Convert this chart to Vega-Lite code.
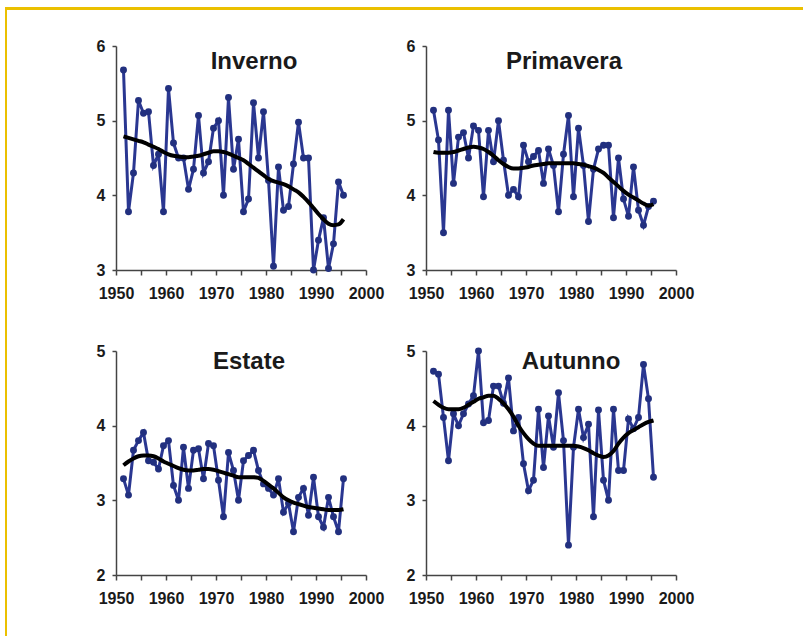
{
  "$schema": "https://vega.github.io/schema/vega-lite/v6.json",
  "padding": {"left": 5, "top": 7, "right": 0, "bottom": 0},
  "background": "white",
  "config": {
    "view": {"stroke": null},
    "axis": {"labelFont": "Liberation Sans", "labelFontSize": 16, "labelFontWeight": "bold", "labelColor": "#1a1a1a", "domainColor": "#444", "tickColor": "#444", "domainWidth": 1.5, "tickWidth": 1.5, "grid": false, "tickSize": 5, "title": null},
    "axisX": {"labelPadding": 10},
    "axisY": {"labelPadding": 7, "tickSize": 4},
    "title": {"font": "Liberation Sans", "fontSize": 24, "fontWeight": "bold", "color": "#1a1a1a", "anchor": "middle", "frame": "group", "baseline": "alphabetic"}
  },
  "datasets": {
    "clima": [
      {"stagione":"Inverno","anno":"1951-07-02","valore":5.68,"tendenza":4.79},
      {"stagione":"Inverno","anno":"1952-07-02","valore":3.78,"tendenza":4.77},
      {"stagione":"Inverno","anno":"1953-07-02","valore":4.3,"tendenza":4.75},
      {"stagione":"Inverno","anno":"1954-07-02","valore":5.27,"tendenza":4.73},
      {"stagione":"Inverno","anno":"1955-07-02","valore":5.1,"tendenza":4.71},
      {"stagione":"Inverno","anno":"1956-07-02","valore":5.12,"tendenza":4.68},
      {"stagione":"Inverno","anno":"1957-07-02","valore":4.4,"tendenza":4.65},
      {"stagione":"Inverno","anno":"1958-07-02","valore":4.55,"tendenza":4.62},
      {"stagione":"Inverno","anno":"1959-07-02","valore":3.78,"tendenza":4.58},
      {"stagione":"Inverno","anno":"1960-07-02","valore":5.43,"tendenza":4.55},
      {"stagione":"Inverno","anno":"1961-07-02","valore":4.7,"tendenza":4.53},
      {"stagione":"Inverno","anno":"1962-07-02","valore":4.5,"tendenza":4.52},
      {"stagione":"Inverno","anno":"1963-07-02","valore":4.5,"tendenza":4.51},
      {"stagione":"Inverno","anno":"1964-07-02","valore":4.08,"tendenza":4.51},
      {"stagione":"Inverno","anno":"1965-07-02","valore":4.35,"tendenza":4.52},
      {"stagione":"Inverno","anno":"1966-07-02","valore":5.07,"tendenza":4.53},
      {"stagione":"Inverno","anno":"1967-07-02","valore":4.3,"tendenza":4.55},
      {"stagione":"Inverno","anno":"1968-07-02","valore":4.45,"tendenza":4.57},
      {"stagione":"Inverno","anno":"1969-07-02","valore":4.9,"tendenza":4.59},
      {"stagione":"Inverno","anno":"1970-07-02","valore":5.0,"tendenza":4.59},
      {"stagione":"Inverno","anno":"1971-07-02","valore":4.0,"tendenza":4.58},
      {"stagione":"Inverno","anno":"1972-07-02","valore":5.31,"tendenza":4.56},
      {"stagione":"Inverno","anno":"1973-07-02","valore":4.35,"tendenza":4.53},
      {"stagione":"Inverno","anno":"1974-07-02","valore":4.75,"tendenza":4.5},
      {"stagione":"Inverno","anno":"1975-07-02","valore":3.78,"tendenza":4.47},
      {"stagione":"Inverno","anno":"1976-07-02","valore":3.95,"tendenza":4.42},
      {"stagione":"Inverno","anno":"1977-07-02","valore":5.24,"tendenza":4.37},
      {"stagione":"Inverno","anno":"1978-07-02","valore":4.5,"tendenza":4.32},
      {"stagione":"Inverno","anno":"1979-07-02","valore":5.12,"tendenza":4.27},
      {"stagione":"Inverno","anno":"1980-07-02","valore":4.2,"tendenza":4.22},
      {"stagione":"Inverno","anno":"1981-07-02","valore":3.05,"tendenza":4.19},
      {"stagione":"Inverno","anno":"1982-07-02","valore":4.38,"tendenza":4.17},
      {"stagione":"Inverno","anno":"1983-07-02","valore":3.8,"tendenza":4.15},
      {"stagione":"Inverno","anno":"1984-07-02","valore":3.85,"tendenza":4.12},
      {"stagione":"Inverno","anno":"1985-07-02","valore":4.42,"tendenza":4.08},
      {"stagione":"Inverno","anno":"1986-07-02","valore":4.98,"tendenza":4.04},
      {"stagione":"Inverno","anno":"1987-07-02","valore":4.5,"tendenza":3.98},
      {"stagione":"Inverno","anno":"1988-07-02","valore":4.5,"tendenza":3.91},
      {"stagione":"Inverno","anno":"1989-07-02","valore":3.0,"tendenza":3.83},
      {"stagione":"Inverno","anno":"1990-07-02","valore":3.4,"tendenza":3.75},
      {"stagione":"Inverno","anno":"1991-07-02","valore":3.7,"tendenza":3.68},
      {"stagione":"Inverno","anno":"1992-07-02","valore":3.02,"tendenza":3.62},
      {"stagione":"Inverno","anno":"1993-07-02","valore":3.35,"tendenza":3.6},
      {"stagione":"Inverno","anno":"1994-07-02","valore":4.18,"tendenza":3.61},
      {"stagione":"Inverno","anno":"1995-07-02","valore":4.0,"tendenza":3.68},
      {"stagione":"Primavera","anno":"1951-07-02","valore":5.14,"tendenza":4.58},
      {"stagione":"Primavera","anno":"1952-07-02","valore":4.74,"tendenza":4.57},
      {"stagione":"Primavera","anno":"1953-07-02","valore":3.5,"tendenza":4.57},
      {"stagione":"Primavera","anno":"1954-07-02","valore":5.14,"tendenza":4.57},
      {"stagione":"Primavera","anno":"1955-07-02","valore":4.16,"tendenza":4.58},
      {"stagione":"Primavera","anno":"1956-07-02","valore":4.78,"tendenza":4.6},
      {"stagione":"Primavera","anno":"1957-07-02","valore":4.84,"tendenza":4.62},
      {"stagione":"Primavera","anno":"1958-07-02","valore":4.5,"tendenza":4.64},
      {"stagione":"Primavera","anno":"1959-07-02","valore":4.93,"tendenza":4.65},
      {"stagione":"Primavera","anno":"1960-07-02","valore":4.87,"tendenza":4.64},
      {"stagione":"Primavera","anno":"1961-07-02","valore":3.98,"tendenza":4.62},
      {"stagione":"Primavera","anno":"1962-07-02","valore":4.87,"tendenza":4.58},
      {"stagione":"Primavera","anno":"1963-07-02","valore":4.45,"tendenza":4.53},
      {"stagione":"Primavera","anno":"1964-07-02","valore":5.0,"tendenza":4.47},
      {"stagione":"Primavera","anno":"1965-07-02","valore":4.47,"tendenza":4.42},
      {"stagione":"Primavera","anno":"1966-07-02","valore":4.0,"tendenza":4.38},
      {"stagione":"Primavera","anno":"1967-07-02","valore":4.08,"tendenza":4.36},
      {"stagione":"Primavera","anno":"1968-07-02","valore":3.98,"tendenza":4.36},
      {"stagione":"Primavera","anno":"1969-07-02","valore":4.67,"tendenza":4.37},
      {"stagione":"Primavera","anno":"1970-07-02","valore":4.45,"tendenza":4.38},
      {"stagione":"Primavera","anno":"1971-07-02","valore":4.52,"tendenza":4.4},
      {"stagione":"Primavera","anno":"1972-07-02","valore":4.6,"tendenza":4.41},
      {"stagione":"Primavera","anno":"1973-07-02","valore":4.16,"tendenza":4.42},
      {"stagione":"Primavera","anno":"1974-07-02","valore":4.62,"tendenza":4.43},
      {"stagione":"Primavera","anno":"1975-07-02","valore":4.4,"tendenza":4.43},
      {"stagione":"Primavera","anno":"1976-07-02","valore":3.78,"tendenza":4.43},
      {"stagione":"Primavera","anno":"1977-07-02","valore":4.55,"tendenza":4.43},
      {"stagione":"Primavera","anno":"1978-07-02","valore":5.07,"tendenza":4.43},
      {"stagione":"Primavera","anno":"1979-07-02","valore":3.98,"tendenza":4.43},
      {"stagione":"Primavera","anno":"1980-07-02","valore":4.9,"tendenza":4.42},
      {"stagione":"Primavera","anno":"1981-07-02","valore":4.4,"tendenza":4.41},
      {"stagione":"Primavera","anno":"1982-07-02","valore":3.65,"tendenza":4.39},
      {"stagione":"Primavera","anno":"1983-07-02","valore":4.35,"tendenza":4.37},
      {"stagione":"Primavera","anno":"1984-07-02","valore":4.62,"tendenza":4.34},
      {"stagione":"Primavera","anno":"1985-07-02","valore":4.67,"tendenza":4.3},
      {"stagione":"Primavera","anno":"1986-07-02","valore":4.67,"tendenza":4.24},
      {"stagione":"Primavera","anno":"1987-07-02","valore":3.7,"tendenza":4.18},
      {"stagione":"Primavera","anno":"1988-07-02","valore":4.5,"tendenza":4.12},
      {"stagione":"Primavera","anno":"1989-07-02","valore":3.95,"tendenza":4.06},
      {"stagione":"Primavera","anno":"1990-07-02","valore":3.72,"tendenza":4.01},
      {"stagione":"Primavera","anno":"1991-07-02","valore":4.38,"tendenza":3.97},
      {"stagione":"Primavera","anno":"1992-07-02","valore":3.8,"tendenza":3.93},
      {"stagione":"Primavera","anno":"1993-07-02","valore":3.6,"tendenza":3.89},
      {"stagione":"Primavera","anno":"1994-07-02","valore":3.85,"tendenza":3.86},
      {"stagione":"Primavera","anno":"1995-07-02","valore":3.92,"tendenza":3.88},
      {"stagione":"Estate","anno":"1951-07-02","valore":3.29,"tendenza":3.47},
      {"stagione":"Estate","anno":"1952-07-02","valore":3.07,"tendenza":3.52},
      {"stagione":"Estate","anno":"1953-07-02","valore":3.67,"tendenza":3.56},
      {"stagione":"Estate","anno":"1954-07-02","valore":3.8,"tendenza":3.59},
      {"stagione":"Estate","anno":"1955-07-02","valore":3.91,"tendenza":3.6},
      {"stagione":"Estate","anno":"1956-07-02","valore":3.53,"tendenza":3.6},
      {"stagione":"Estate","anno":"1957-07-02","valore":3.51,"tendenza":3.59},
      {"stagione":"Estate","anno":"1958-07-02","valore":3.42,"tendenza":3.56},
      {"stagione":"Estate","anno":"1959-07-02","valore":3.73,"tendenza":3.52},
      {"stagione":"Estate","anno":"1960-07-02","valore":3.8,"tendenza":3.49},
      {"stagione":"Estate","anno":"1961-07-02","valore":3.2,"tendenza":3.46},
      {"stagione":"Estate","anno":"1962-07-02","valore":3.0,"tendenza":3.43},
      {"stagione":"Estate","anno":"1963-07-02","valore":3.71,"tendenza":3.41},
      {"stagione":"Estate","anno":"1964-07-02","valore":3.16,"tendenza":3.4},
      {"stagione":"Estate","anno":"1965-07-02","valore":3.67,"tendenza":3.4},
      {"stagione":"Estate","anno":"1966-07-02","valore":3.69,"tendenza":3.41},
      {"stagione":"Estate","anno":"1967-07-02","valore":3.29,"tendenza":3.42},
      {"stagione":"Estate","anno":"1968-07-02","valore":3.76,"tendenza":3.42},
      {"stagione":"Estate","anno":"1969-07-02","valore":3.73,"tendenza":3.41},
      {"stagione":"Estate","anno":"1970-07-02","valore":3.27,"tendenza":3.39},
      {"stagione":"Estate","anno":"1971-07-02","valore":2.78,"tendenza":3.37},
      {"stagione":"Estate","anno":"1972-07-02","valore":3.64,"tendenza":3.35},
      {"stagione":"Estate","anno":"1973-07-02","valore":3.4,"tendenza":3.33},
      {"stagione":"Estate","anno":"1974-07-02","valore":3.0,"tendenza":3.31},
      {"stagione":"Estate","anno":"1975-07-02","valore":3.53,"tendenza":3.31},
      {"stagione":"Estate","anno":"1976-07-02","valore":3.6,"tendenza":3.31},
      {"stagione":"Estate","anno":"1977-07-02","valore":3.67,"tendenza":3.31},
      {"stagione":"Estate","anno":"1978-07-02","valore":3.4,"tendenza":3.3},
      {"stagione":"Estate","anno":"1979-07-02","valore":3.22,"tendenza":3.26},
      {"stagione":"Estate","anno":"1980-07-02","valore":3.16,"tendenza":3.21},
      {"stagione":"Estate","anno":"1981-07-02","valore":3.07,"tendenza":3.16},
      {"stagione":"Estate","anno":"1982-07-02","valore":3.29,"tendenza":3.1},
      {"stagione":"Estate","anno":"1983-07-02","valore":2.84,"tendenza":3.04},
      {"stagione":"Estate","anno":"1984-07-02","valore":2.96,"tendenza":3.0},
      {"stagione":"Estate","anno":"1985-07-02","valore":2.58,"tendenza":2.97},
      {"stagione":"Estate","anno":"1986-07-02","valore":3.04,"tendenza":2.95},
      {"stagione":"Estate","anno":"1987-07-02","valore":3.16,"tendenza":2.93},
      {"stagione":"Estate","anno":"1988-07-02","valore":2.8,"tendenza":2.91},
      {"stagione":"Estate","anno":"1989-07-02","valore":3.31,"tendenza":2.9},
      {"stagione":"Estate","anno":"1990-07-02","valore":2.78,"tendenza":2.89},
      {"stagione":"Estate","anno":"1991-07-02","valore":2.64,"tendenza":2.88},
      {"stagione":"Estate","anno":"1992-07-02","valore":3.04,"tendenza":2.87},
      {"stagione":"Estate","anno":"1993-07-02","valore":2.78,"tendenza":2.87},
      {"stagione":"Estate","anno":"1994-07-02","valore":2.58,"tendenza":2.87},
      {"stagione":"Estate","anno":"1995-07-02","valore":3.29,"tendenza":2.88},
      {"stagione":"Autunno","anno":"1951-07-02","valore":4.73,"tendenza":4.33},
      {"stagione":"Autunno","anno":"1952-07-02","valore":4.69,"tendenza":4.28},
      {"stagione":"Autunno","anno":"1953-07-02","valore":4.11,"tendenza":4.24},
      {"stagione":"Autunno","anno":"1954-07-02","valore":3.53,"tendenza":4.22},
      {"stagione":"Autunno","anno":"1955-07-02","valore":4.16,"tendenza":4.22},
      {"stagione":"Autunno","anno":"1956-07-02","valore":4.0,"tendenza":4.22},
      {"stagione":"Autunno","anno":"1957-07-02","valore":4.16,"tendenza":4.24},
      {"stagione":"Autunno","anno":"1958-07-02","valore":4.29,"tendenza":4.28},
      {"stagione":"Autunno","anno":"1959-07-02","valore":4.4,"tendenza":4.32},
      {"stagione":"Autunno","anno":"1960-07-02","valore":5.0,"tendenza":4.36},
      {"stagione":"Autunno","anno":"1961-07-02","valore":4.04,"tendenza":4.38},
      {"stagione":"Autunno","anno":"1962-07-02","valore":4.07,"tendenza":4.4},
      {"stagione":"Autunno","anno":"1963-07-02","valore":4.53,"tendenza":4.4},
      {"stagione":"Autunno","anno":"1964-07-02","valore":4.53,"tendenza":4.36},
      {"stagione":"Autunno","anno":"1965-07-02","valore":4.3,"tendenza":4.3},
      {"stagione":"Autunno","anno":"1966-07-02","valore":4.64,"tendenza":4.22},
      {"stagione":"Autunno","anno":"1967-07-02","valore":3.93,"tendenza":4.12},
      {"stagione":"Autunno","anno":"1968-07-02","valore":4.11,"tendenza":4.0},
      {"stagione":"Autunno","anno":"1969-07-02","valore":3.49,"tendenza":3.9},
      {"stagione":"Autunno","anno":"1970-07-02","valore":3.13,"tendenza":3.82},
      {"stagione":"Autunno","anno":"1971-07-02","valore":3.27,"tendenza":3.76},
      {"stagione":"Autunno","anno":"1972-07-02","valore":4.22,"tendenza":3.73},
      {"stagione":"Autunno","anno":"1973-07-02","valore":3.44,"tendenza":3.73},
      {"stagione":"Autunno","anno":"1974-07-02","valore":4.13,"tendenza":3.73},
      {"stagione":"Autunno","anno":"1975-07-02","valore":3.71,"tendenza":3.73},
      {"stagione":"Autunno","anno":"1976-07-02","valore":4.44,"tendenza":3.73},
      {"stagione":"Autunno","anno":"1977-07-02","valore":3.8,"tendenza":3.73},
      {"stagione":"Autunno","anno":"1978-07-02","valore":2.4,"tendenza":3.73},
      {"stagione":"Autunno","anno":"1979-07-02","valore":3.71,"tendenza":3.73},
      {"stagione":"Autunno","anno":"1980-07-02","valore":4.22,"tendenza":3.72},
      {"stagione":"Autunno","anno":"1981-07-02","valore":3.84,"tendenza":3.7},
      {"stagione":"Autunno","anno":"1982-07-02","valore":4.02,"tendenza":3.67},
      {"stagione":"Autunno","anno":"1983-07-02","valore":2.78,"tendenza":3.63},
      {"stagione":"Autunno","anno":"1984-07-02","valore":4.21,"tendenza":3.6},
      {"stagione":"Autunno","anno":"1985-07-02","valore":3.27,"tendenza":3.58},
      {"stagione":"Autunno","anno":"1986-07-02","valore":3.0,"tendenza":3.6},
      {"stagione":"Autunno","anno":"1987-07-02","valore":4.22,"tendenza":3.66},
      {"stagione":"Autunno","anno":"1988-07-02","valore":3.4,"tendenza":3.76},
      {"stagione":"Autunno","anno":"1989-07-02","valore":3.4,"tendenza":3.84},
      {"stagione":"Autunno","anno":"1990-07-02","valore":4.09,"tendenza":3.9},
      {"stagione":"Autunno","anno":"1991-07-02","valore":3.96,"tendenza":3.94},
      {"stagione":"Autunno","anno":"1992-07-02","valore":4.11,"tendenza":3.98},
      {"stagione":"Autunno","anno":"1993-07-02","valore":4.82,"tendenza":4.02},
      {"stagione":"Autunno","anno":"1994-07-02","valore":4.36,"tendenza":4.05},
      {"stagione":"Autunno","anno":"1995-07-02","valore":3.31,"tendenza":4.07}
    ]
  },
  "hconcat": [
    {"width": 2, "height": 629, "data": {"values": [{"bordo": "sinistro"}]}, "mark": {"type": "rect", "color": "#EBC000"}},
    {
      "vconcat": [
        {"width": 796, "height": 3, "data": {"values": [{"bordo": "superiore"}]}, "mark": {"type": "rect", "color": "#EBC000"}},
        {
          "hconcat": [
            {"width": 1, "height": 1, "data": {"values": []}, "mark": "rect"},
            {
              "columns": 2,
              "spacing": {"row": 81, "column": 60},
              "bounds": "flush",
              "concat": [
                {
                  "width": 250, "height": 224,
                  "data": {"name": "clima"},
                  "transform": [{"filter": "datum.stagione === 'Inverno'"}],
                  "title": {"text": "Inverno", "dx": 13, "offset": -36},
                  "encoding": {"x": {"field": "anno", "type": "temporal", "scale": {"domain": [{"year": 1950}, {"year": 2000}]}, "axis": {"values": [{"year":1950},{"year":1955},{"year":1960},{"year":1965},{"year":1970},{"year":1975},{"year":1980},{"year":1985},{"year":1990},{"year":1995},{"year":2000}], "format": "%Y", "labelExpr": "year(datum.value) % 10 === 0 ? datum.label : ''", "labelFlush": false, "labelOverlap": false}}},
                  "layer": [
                    {"mark": {"type": "line", "color": "#2A3791", "strokeWidth": 3, "point": {"filled": true, "size": 48, "color": "#22307F"}}, "encoding": {"y": {"field": "valore", "type": "quantitative", "scale": {"domain": [3, 6]}, "axis": {"values": [3, 4, 5, 6], "format": "d", "labelFlush": false}}}},
                    {"mark": {"type": "line", "color": "#000000", "strokeWidth": 4, "interpolate": "monotone"}, "encoding": {"y": {"field": "tendenza", "type": "quantitative"}}}
                  ]
                },
                {
                  "width": 250, "height": 224,
                  "data": {"name": "clima"},
                  "transform": [{"filter": "datum.stagione === 'Primavera'"}],
                  "title": {"text": "Primavera", "dx": 13, "offset": -36},
                  "encoding": {"x": {"field": "anno", "type": "temporal", "scale": {"domain": [{"year": 1950}, {"year": 2000}]}, "axis": {"values": [{"year":1950},{"year":1955},{"year":1960},{"year":1965},{"year":1970},{"year":1975},{"year":1980},{"year":1985},{"year":1990},{"year":1995},{"year":2000}], "format": "%Y", "labelExpr": "year(datum.value) % 10 === 0 ? datum.label : ''", "labelFlush": false, "labelOverlap": false}}},
                  "layer": [
                    {"mark": {"type": "line", "color": "#2A3791", "strokeWidth": 3, "point": {"filled": true, "size": 48, "color": "#22307F"}}, "encoding": {"y": {"field": "valore", "type": "quantitative", "scale": {"domain": [3, 6]}, "axis": {"values": [3, 4, 5, 6], "format": "d", "labelFlush": false}}}},
                    {"mark": {"type": "line", "color": "#000000", "strokeWidth": 4, "interpolate": "monotone"}, "encoding": {"y": {"field": "tendenza", "type": "quantitative"}}}
                  ]
                },
                {
                  "width": 250, "height": 224,
                  "data": {"name": "clima"},
                  "transform": [{"filter": "datum.stagione === 'Estate'"}],
                  "title": {"text": "Estate", "dx": 8, "offset": -31},
                  "encoding": {"x": {"field": "anno", "type": "temporal", "scale": {"domain": [{"year": 1950}, {"year": 2000}]}, "axis": {"values": [{"year":1950},{"year":1955},{"year":1960},{"year":1965},{"year":1970},{"year":1975},{"year":1980},{"year":1985},{"year":1990},{"year":1995},{"year":2000}], "format": "%Y", "labelExpr": "year(datum.value) % 10 === 0 ? datum.label : ''", "labelFlush": false, "labelOverlap": false}}},
                  "layer": [
                    {"mark": {"type": "line", "color": "#2A3791", "strokeWidth": 3, "point": {"filled": true, "size": 48, "color": "#22307F"}}, "encoding": {"y": {"field": "valore", "type": "quantitative", "scale": {"domain": [2, 5]}, "axis": {"values": [2, 3, 4, 5], "format": "d", "labelFlush": false}}}},
                    {"mark": {"type": "line", "color": "#000000", "strokeWidth": 4, "interpolate": "monotone"}, "encoding": {"y": {"field": "tendenza", "type": "quantitative"}}}
                  ]
                },
                {
                  "width": 250, "height": 224,
                  "data": {"name": "clima"},
                  "transform": [{"filter": "datum.stagione === 'Autunno'"}],
                  "title": {"text": "Autunno", "dx": 20, "offset": -31},
                  "encoding": {"x": {"field": "anno", "type": "temporal", "scale": {"domain": [{"year": 1950}, {"year": 2000}]}, "axis": {"values": [{"year":1950},{"year":1955},{"year":1960},{"year":1965},{"year":1970},{"year":1975},{"year":1980},{"year":1985},{"year":1990},{"year":1995},{"year":2000}], "format": "%Y", "labelExpr": "year(datum.value) % 10 === 0 ? datum.label : ''", "labelFlush": false, "labelOverlap": false}}},
                  "layer": [
                    {"mark": {"type": "line", "color": "#2A3791", "strokeWidth": 3, "point": {"filled": true, "size": 48, "color": "#22307F"}}, "encoding": {"y": {"field": "valore", "type": "quantitative", "scale": {"domain": [2, 5]}, "axis": {"values": [2, 3, 4, 5], "format": "d", "labelFlush": false}}}},
                    {"mark": {"type": "line", "color": "#000000", "strokeWidth": 4, "interpolate": "monotone"}, "encoding": {"y": {"field": "tendenza", "type": "quantitative"}}}
                  ]
                }
              ]
            }
          ],
          "spacing": 108, "bounds": "flush"
        }
      ],
      "spacing": 36, "bounds": "flush"
    }
  ],
  "spacing": 0, "bounds": "flush"
}
